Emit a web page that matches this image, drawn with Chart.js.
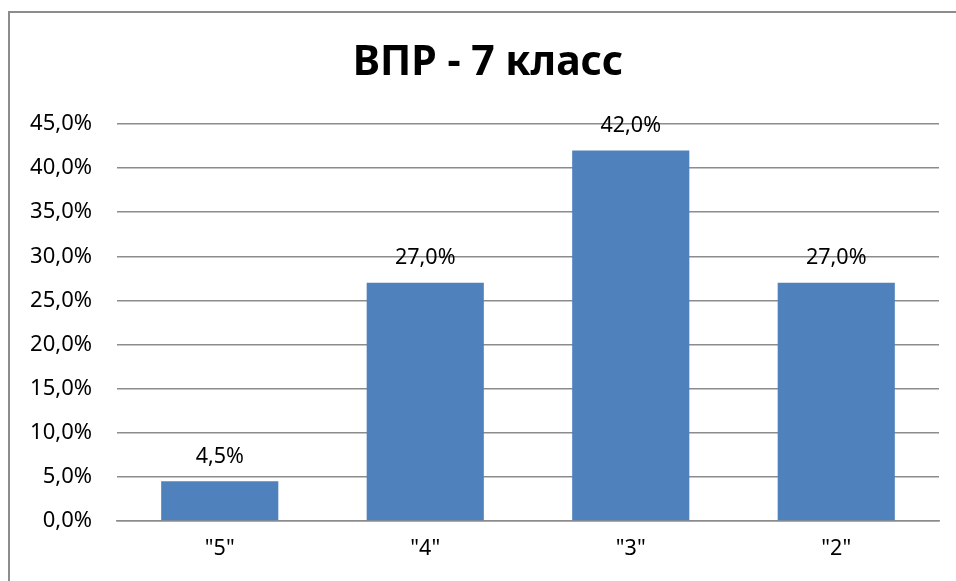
<!DOCTYPE html>
<html>
<head>
<meta charset="utf-8">
<script src="https://cdn.jsdelivr.net/npm/chart.js@4"></script>
<style>
  body { margin: 0; background: #fff; }
  #wrap { position: relative; width: 956px; height: 581px; overflow: hidden; }
  #frame { position: absolute; left: 8px; top: 11px; width: 960px; height: 600px; border: 2px solid #8c8c8c; pointer-events: none; box-sizing: border-box; }
  canvas { position: absolute; left: 0; top: 0; }
</style>
</head>
<body>
<div id="wrap">
  <canvas id="chart" width="956" height="581"></canvas>
  <div id="frame"></div>
</div>
<script>
// ВПР - 7 класс, доля отметок
var title = 'ВПР - 7 класс';
var categories = ['"5"', '"4"', '"3"', '"2"'];
var shares = [4.5, 27.0, 42.0, 27.0];
var yTicks = [0, 5, 10, 15, 20, 25, 30, 35, 40, 45];

function pct(v) {
	return v.toFixed(1).replace('.', ',') + '%';
}

var FONT = '"Noto Sans", "Open Sans", sans-serif';

// заголовок рисуем сами: в оригинале он смещён вправо от центра
var titlePlugin = {
	id: 'ownTitle',
	afterDraw: function(chart) {
		var ctx = chart.ctx;
		ctx.save();
		ctx.font = 'bold 41px ' + FONT;
		ctx.fillStyle = '#000';
		ctx.textAlign = 'center';
		ctx.textBaseline = 'alphabetic';
		ctx.fillText(title, 488, 75);
		ctx.restore();
	}
};

// подписи над столбцами
var barLabels = {
	id: 'barLabels',
	afterDatasetsDraw: function(chart) {
		var ctx = chart.ctx;
		var meta = chart.getDatasetMeta(0);
		ctx.save();
		ctx.font = '21.5px ' + FONT;
		ctx.fillStyle = '#000';
		ctx.textAlign = 'center';
		ctx.textBaseline = 'bottom';
		meta.data.forEach(function(bar, i) {
			ctx.fillText(pct(shares[i]), bar.x, bar.y - 14);
		});
		ctx.restore();
	}
};

var ctx = document.getElementById('chart').getContext('2d');
var chart = new Chart(ctx, {
	type: 'bar',
	data: {
		labels: categories,
		datasets: [{
			data: shares,
			backgroundColor: '#4f81bd',
			borderWidth: 0,
			categoryPercentage: 1.0,
			barPercentage: 0.57
		}]
	},
	options: {
		responsive: false,
		animation: false,
		devicePixelRatio: 1,
		layout: { padding: { top: 124, right: 17, left: 0, bottom: 0 } },
		plugins: {
			legend: { display: false },
			tooltip: { enabled: false },
			title: { display: false }
		},
		scales: {
			x: {
				grid: { display: false, drawTicks: false },
				border: { display: true, color: '#8c8c8c', width: 1.5 },
				ticks: { color: '#000', font: { family: FONT, size: 21.5 }, padding: 15 },
				afterFit: function(s) { s.height = 60; }
			},
			y: {
				min: 0,
				max: 45,
				afterBuildTicks: function(s) { s.ticks = yTicks.map(function(v) { return { value: v }; }); },
				grid: { color: '#8c8c8c', lineWidth: 1.5, drawTicks: false },
				border: { display: false },
				ticks: {
					color: '#000',
					font: { family: FONT, size: 22 },
					padding: 25,
					callback: function(v) { return pct(v); }
				},
				afterFit: function(s) { s.width = 117; }
			}
		}
	},
	plugins: [barLabels, titlePlugin]
});
</script>
</body>
</html>
